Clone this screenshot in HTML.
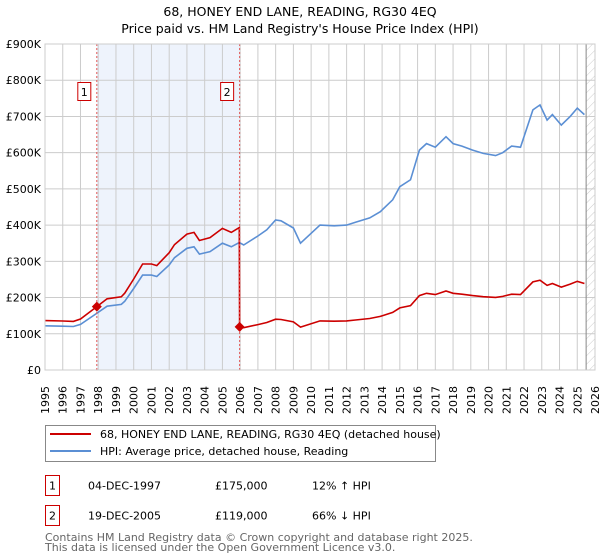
<!DOCTYPE html>
<html><head><meta charset="utf-8"><style>
body{margin:0;background:#fff;width:600px;height:560px;overflow:hidden;font-family:"DejaVu Sans","Liberation Sans",sans-serif;}
svg{display:block}
</style></head><body>
<svg id="chart" width="600" height="560" xmlns="http://www.w3.org/2000/svg" font-family="DejaVu Sans, Liberation Sans, sans-serif">
<defs>
<pattern id="hatch" width="6" height="6" patternUnits="userSpaceOnUse" patternTransform="rotate(45)">
<line x1="0" y1="0" x2="0" y2="6" stroke="#ccc" stroke-width="1"/></pattern>
</defs>
<text x="300" y="16" text-anchor="middle" font-size="12.5">68, HONEY END LANE, READING, RG30 4EQ</text>
<text x="300" y="33" text-anchor="middle" font-size="12.5">Price paid vs. HM Land Registry's House Price Index (HPI)</text>
<g id="plot"></g>
<g>
<rect x="45.5" y="425.5" width="390" height="36" fill="#fff" stroke="#888"/>
<line x1="50" y1="434" x2="91" y2="434" stroke="#cc0000" stroke-width="2"/>
<text x="100" y="438" font-size="11">68, HONEY END LANE, READING, RG30 4EQ (detached house)</text>
<line x1="50" y1="451" x2="91" y2="451" stroke="#5b8fd4" stroke-width="2"/>
<text x="100" y="455" font-size="11">HPI: Average price, detached house, Reading</text>
</g>
<g font-size="11">
<rect x="45.5" y="475.5" width="14" height="20" fill="#fff" stroke="#cc0000"/>
<text x="52.5" y="489.5" text-anchor="middle">1</text>
<text x="88" y="489.5">04-DEC-1997</text><text x="215" y="489.5">£175,000</text><text x="312" y="489.5">12% ↑ HPI</text>
<rect x="45.5" y="505.5" width="14" height="20" fill="#fff" stroke="#cc0000"/>
<text x="52.5" y="519.5" text-anchor="middle">2</text>
<text x="88" y="519.5">19-DEC-2005</text><text x="215" y="519.5">£119,000</text><text x="312" y="519.5">66% ↓ HPI</text>
</g>
<g font-size="11" fill="#666">
<text x="45" y="541">Contains HM Land Registry data © Crown copyright and database right 2025.</text>
<text x="45" y="551">This data is licensed under the Open Government Licence v3.0.</text>
</g>
</svg>
<script>
const hpiYears=[1995,1996,1996.6,1997,1997.9,1998.5,1999.3,1999.5,2000,2000.5,2001,2001.3,2002,2002.3,2003,2003.4,2003.7,2004.3,2005,2005.5,2005.95,2006.2,2007,2007.5,2008,2008.3,2009,2009.4,2010.5,2011.3,2012,2012.5,2013.3,2013.9,2014.6,2015,2015.6,2016.1,2016.5,2017,2017.6,2018,2018.5,2019.1,2019.7,2020.4,2020.8,2021.3,2021.8,2022.5,2022.9,2023.3,2023.6,2024.1,2024.6,2025.0,2025.4];
const hpiValues=[122,121,120,126,156,176,181,190,225,262,262,258,290,310,336,340,320,327,350,340,352,345,370,387,414,412,392,350,400,398,400,408,420,437,470,506,525,607,625,615,644,625,618,607,598,592,600,618,615,718,732,690,705,676,700,723,705];
const saleYears=[1997.92,2005.97];
const salePrices=[175,119];
const saleLabels=["1","2"];
const yTicks=[0,100,200,300,400,500,600,700,800,900];
const yTickLabels=["£0","£100K","£200K","£300K","£400K","£500K","£600K","£700K","£800K","£900K"];
const xYears=[];for(let y=1995;y<=2026;y++)xYears.push(y);

const NS="http://www.w3.org/2000/svg";
const X0=45,X1=595,Y0=370,Y1=44;
const xs=y=>X0+(y-1995)*(X1-X0)/31;
const ys=v=>Y0-v*(Y0-Y1)/900;
const g=document.getElementById('plot');
function mk(t,a,p){const e=document.createElementNS(NS,t);for(const k in a)e.setAttribute(k,a[k]);(p||g).appendChild(e);return e;}
function hpiAt(t){if(t<=hpiYears[0])return hpiValues[0];for(let i=1;i<hpiYears.length;i++){if(t<=hpiYears[i]){const f=(t-hpiYears[i-1])/(hpiYears[i]-hpiYears[i-1]);return hpiValues[i-1]+f*(hpiValues[i]-hpiValues[i-1]);}}return hpiValues[hpiValues.length-1];}

let r=mk('rect',{x:xs(saleYears[0]),y:Y1,width:xs(saleYears[1])-xs(saleYears[0]),height:Y0-Y1,fill:'#eef3fc'});


let h=mk('rect',{x:xs(2025.5),y:Y1,width:X1-xs(2025.5),height:Y0-Y1,fill:'url(#hatch)'});


xYears.forEach(y=>{const l=mk('line',{x1:xs(y),x2:xs(y),y1:Y1,y2:Y0,stroke:'#ccc','stroke-width':1});


const s=String(y),ox=(xs(y)+4).toFixed(1);
const xsL=[],ysL=[];for(let k=0;k<s.length;k++){xsL.push(ox);ysL.push((414-k*7).toFixed(1));}
const t=mk('text',{x:xsL.join(' '),y:ysL.join(' '),rotate:'-90','font-size':11});t.textContent=s;

});
yTicks.forEach((v,i)=>{const l=mk('line',{x1:X0,x2:X1,y1:ys(v),y2:ys(v),stroke:'#ccc','stroke-width':1});


const t=mk('text',{x:X0-4,y:ys(v)+4,'font-size':11,'text-anchor':'end'});t.textContent=yTickLabels[i];

});
mk('line',{x1:xs(2025.5),x2:xs(2025.5),y1:Y1,y2:Y0,stroke:'#888','stroke-width':1});
let d=hpiYears.map((y,i)=>(i?'L':'M')+xs(y).toFixed(1)+','+ys(hpiValues[i]).toFixed(1)).join('');
let hp=mk('path',{d:d,fill:'none',stroke:'#5b8fd4','stroke-width':1.6});


const r1=salePrices[0]/hpiAt(saleYears[0]),r2=salePrices[1]/hpiAt(saleYears[1]);
let pts=[];
hpiYears.filter(y=>y<saleYears[1]).forEach(y=>pts.push([y,hpiAt(y)*r1]));
pts.push([saleYears[1]-0.02,hpiAt(saleYears[1])*r1]);
pts.push([saleYears[1],salePrices[1]]);
hpiYears.filter(y=>y>saleYears[1]).forEach(y=>pts.push([y,hpiAt(y)*r2]));
let pp=mk('path',{d:pts.map((p,i)=>(i?'L':'M')+xs(p[0]).toFixed(1)+','+ys(p[1]).toFixed(1)).join(''),fill:'none',stroke:'#cc0000','stroke-width':1.6});


saleYears.forEach((y,i)=>{
const l=mk('line',{x1:xs(y),x2:xs(y),y1:Y1,y2:Y0,stroke:'#e05555','stroke-width':1,'stroke-dasharray':'2,2'});


const b=mk('rect',{x:xs(y)-19,y:82.5,width:13,height:18,fill:'#fff',stroke:'#cc0000'});


const t=mk('text',{x:xs(y)-12.5,y:96,'font-size':11,'text-anchor':'middle'});t.textContent=saleLabels[i];


const c=mk('path',{d:`M${xs(y)},${ys(salePrices[i])-5}l5,5l-5,5l-5,-5z`,fill:'#cc0000'});


});
mk('rect',{x:X0,y:Y1,width:X1-X0,height:Y0-Y1,fill:'none',stroke:'#ccc'});
</script>
</body></html>
